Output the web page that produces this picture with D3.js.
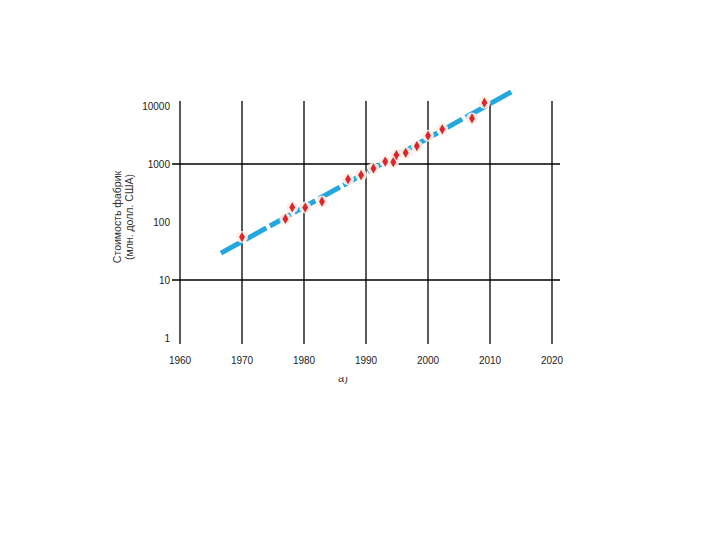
<!DOCTYPE html>
<html>
<head>
<meta charset="utf-8">
<script src="https://cdn.jsdelivr.net/npm/d3@7"></script>
<style>
  body { margin: 0; background: #fff; }
  svg { display: block; font-family: "Liberation Sans", Arial, sans-serif; }
</style>
</head>
<body>
<svg id="svg" width="720" height="540"></svg>
<script>
"use strict";

// years of the vertical grid lines and the value decades
const yearTicks = [1960, 1970, 1980, 1990, 2000, 2010, 2020];
const valueTicks = [1, 10, 100, 1000, 10000];
const valueGrid = [10, 1000];

// fab cost, million USD
const fabYears = [1970, 1977.0, 1978.1, 1980.2, 1982.9, 1987.1, 1989.2, 1991.2, 1993.1,
                  1994.4, 1994.9, 1996.4, 1998.2, 2000.0, 2002.3, 2007.1, 2009.1];
const fabCost = [55, 113, 179, 177, 225, 546, 645, 840, 1100,
                 1080, 1430, 1560, 2040, 3070, 3960, 6100, 11400];

// trend line end points
const trendYears = [1966.6, 2014.0];
const trendCost = [29, 18900];

var svg = d3.select("svg");

var x = d3.scaleLinear().domain([1960, 2020]).range([180, 552]);
var y = d3.scaleLog().domain([1, 10000]).range([338, 106]);

var grid = svg.append("g")
    .attr("stroke", "#000")
    .attr("stroke-width", 1.3);

grid.selectAll(".vline")
    .data(yearTicks)
    .enter()
    .append("line")
        .attr("class", "vline")
        .attr("x1", d => x(d))
        .attr("x2", d => x(d))
        .attr("y1", 101)
        .attr("y2", 344);

grid.selectAll(".hline")
    .data(valueGrid)
    .enter()
    .append("line")
        .attr("class", "hline")
        .attr("x1", 172)
        .attr("x2", 560)
        .attr("y1", d => y(d))
        .attr("y2", d => y(d));

svg.append("g")
    .selectAll("text")
    .data(valueTicks)
    .enter()
    .append("text")
        .attr("x", 170)
        .attr("y", d => y(d))
        .attr("dy", "0.35em")
        .attr("text-anchor", "end")
        .attr("font-size", 10)
        .attr("fill", "#222")
        .text(d => d);

svg.append("g")
    .selectAll("text")
    .data(yearTicks)
    .enter()
    .append("text")
        .attr("x", d => x(d))
        .attr("y", 364)
        .attr("text-anchor", "middle")
        .attr("font-size", 10)
        .attr("fill", "#222")
        .text(d => d);

var yLabel = svg.append("text")
    .attr("transform", "translate(123,217) rotate(-90)")
    .attr("text-anchor", "middle")
    .attr("font-size", 10.5)
    .attr("fill", "#333");
yLabel.append("tspan").attr("x", 0).attr("y", -2).text("Стоимость фабрик");
yLabel.append("tspan").attr("x", 0).attr("y", 10).text("(млн. долл. США)");

// caption under the chart, only its lower part shows
svg.append("clipPath")
    .attr("id", "capclip")
    .append("rect")
        .attr("x", 330).attr("y", 377).attr("width", 30).attr("height", 12);
svg.append("text")
    .attr("clip-path", "url(#capclip)")
    .attr("x", 343)
    .attr("y", 382)
    .attr("text-anchor", "middle")
    .attr("font-size", 11)
    .attr("fill", "#333")
    .text("а)");

var trend = trendYears.map((d, i) => [d, trendCost[i]]);
svg.append("path")
    .datum(trend)
    .attr("d", d3.line().x(d => x(d[0])).y(d => y(d[1])))
    .attr("fill", "none")
    .attr("stroke", "#22a8df")
    .attr("stroke-width", 5)
    .attr("stroke-dasharray", "24,4");

var points = fabYears.map((d, i) => ({ year: d, cost: fabCost[i] }));

svg.append("g")
    .selectAll("circle")
    .data(points)
    .enter()
    .append("circle")
        .attr("cx", d => x(d.year))
        .attr("cy", d => y(d.cost))
        .attr("r", 6)
        .attr("fill", "#fdf0e4")
        .attr("opacity", 0.9);

svg.append("g")
    .selectAll("path")
    .data(points)
    .enter()
    .append("path")
        .attr("transform", d => "translate(" + x(d.year) + "," + y(d.cost) + ")")
        .attr("d", d3.symbol().type(d3.symbolDiamond).size(30))
        .attr("fill", "#e0242c");
</script>
</body>
</html>
